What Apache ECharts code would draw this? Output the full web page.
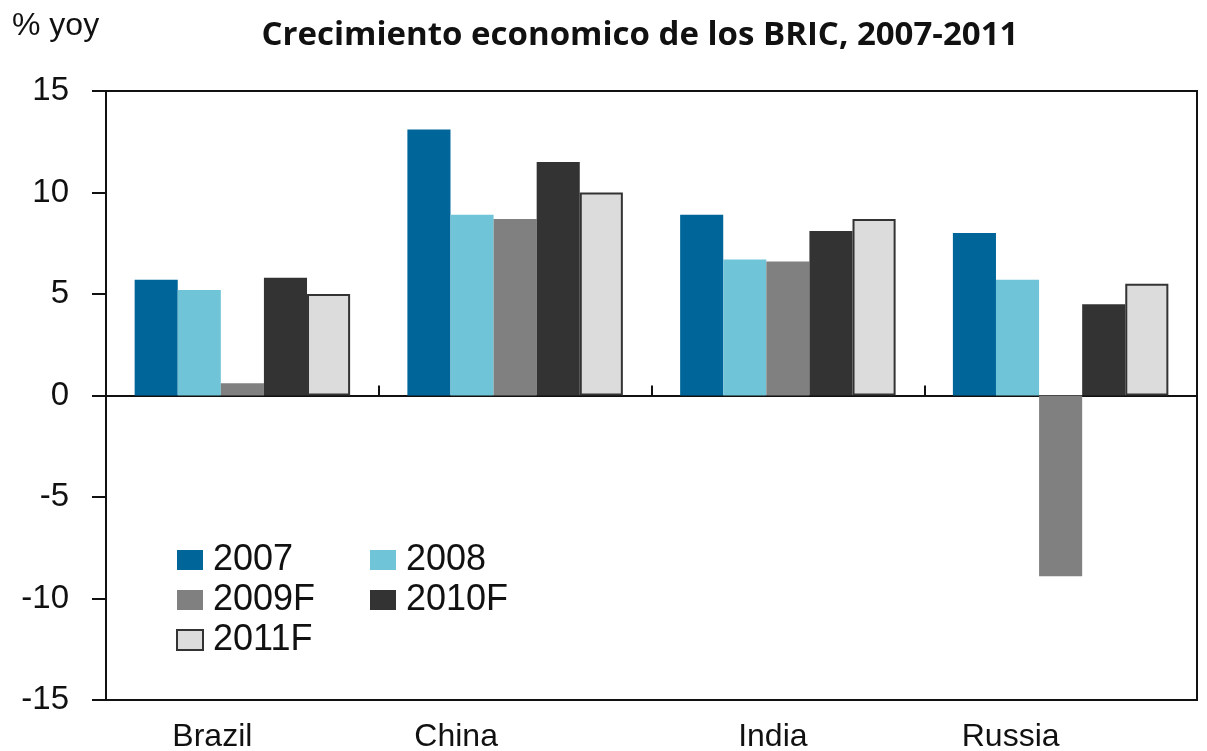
<!DOCTYPE html>
<html>
<head>
<meta charset="utf-8">
<script src="https://cdn.jsdelivr.net/npm/echarts@6/dist/echarts.min.js"></script>
<style>
  html, body { margin: 0; padding: 0; background: #fff; }
  #chart { width: 1207px; height: 751px; }
</style>
</head>
<body>
<div id="chart"></div>
<script>
// BRIC growth, % yoy
const countries = ['Brazil', 'China', 'India', 'Russia']
const y2007 = [5.7, 13.1, 8.9, 8.0]
const y2008 = [5.2, 8.9, 6.7, 5.7]
const y2009F = [0.6, 8.7, 6.6, -8.9]
const y2010F = [5.8, 11.5, 8.1, 4.5]
const y2011F = [5.0, 10.0, 8.7, 5.5]
// labels in the original sit a bit left of the category centre
const labelShift = [60, 118, 30, 100]

const font = 'Liberation Sans, Arial, sans-serif'
const ink = '#111'

let chart = echarts.init(document.getElementById('chart'))

const bar = (name, data, color, border) => ({
  name: name,
  type: 'bar',
  data: data,
  barGap: 0,
  barCategoryGap: '21%',
  itemStyle: {
    color: color,
    borderColor: border || color,
    borderWidth: border ? 2 : 0,
  },
})

const legendText = {
  fontFamily: font,
  fontSize: 36,
  color: ink,
  padding: [0, 0, 0, 5],
}

chart.setOption({
  animation: false,
  title: {
    text: 'Crecimiento economico de los BRIC, 2007-2011',
    left: 635,
    textAlign: 'center',
    top: 14,
    textStyle: {
      fontFamily: 'Open Sans, sans-serif',
      fontWeight: 'bold',
      fontSize: 33,
      color: ink,
    },
  },
  graphic: [
    {
      type: 'text',
      left: 12,
      top: 10,
      style: { text: '% yoy', font: '32px ' + font, fill: ink },
    },
  ],
  legend: [
    {
      data: ['2007', '2009F', '2011F'],
      orient: 'vertical',
      left: 171,
      top: 537,
      itemWidth: 26,
      itemHeight: 20,
      itemGap: 4,
      icon: 'rect',
      textStyle: legendText,
    },
    {
      data: ['2008', '2010F'],
      orient: 'vertical',
      left: 365,
      top: 537,
      itemWidth: 26,
      itemHeight: 20,
      itemGap: 4,
      icon: 'rect',
      textStyle: legendText,
    },
  ],
  grid: {
    left: 106,
    right: 10,
    top: 91,
    bottom: 51,
    outerBoundsMode: 'none',
    show: true,
    borderColor: '#111',
    borderWidth: 2,
  },
  xAxis: [
    {
      type: 'category',
      data: countries.map((c, i) => ({
        value: c,
        textStyle: { padding: [0, labelShift[i], 0, 0] },
      })),
      position: 'bottom',
      axisLine: { onZero: false, lineStyle: { color: '#111', width: 2 } },
      axisTick: { show: false },
      axisLabel: { fontFamily: font, fontSize: 32, color: ink, margin: 21 },
    },
    {
      type: 'category',
      data: countries,
      axisLine: { onZero: true, lineStyle: { color: '#111', width: 2 } },
      axisTick: { show: true, length: 10, lineStyle: { width: 2 } },
      axisLabel: { show: false },
    },
  ],
  yAxis: {
    type: 'value',
    min: -15,
    max: 15,
    interval: 5,
    axisLine: { show: true, lineStyle: { color: '#111', width: 2 } },
    axisTick: { show: true, length: 14, lineStyle: { width: 2 } },
    splitLine: { show: false },
    axisLabel: { fontFamily: font, fontSize: 33, color: ink, margin: 37 },
  },
  series: [
    bar('2007', y2007, '#00669a'),
    bar('2008', y2008, '#70c4d8'),
    bar('2009F', y2009F, '#808080'),
    bar('2010F', y2010F, '#333333'),
    bar('2011F', y2011F, '#dcdcdc', '#333333'),
  ],
})
</script>
</body>
</html>
